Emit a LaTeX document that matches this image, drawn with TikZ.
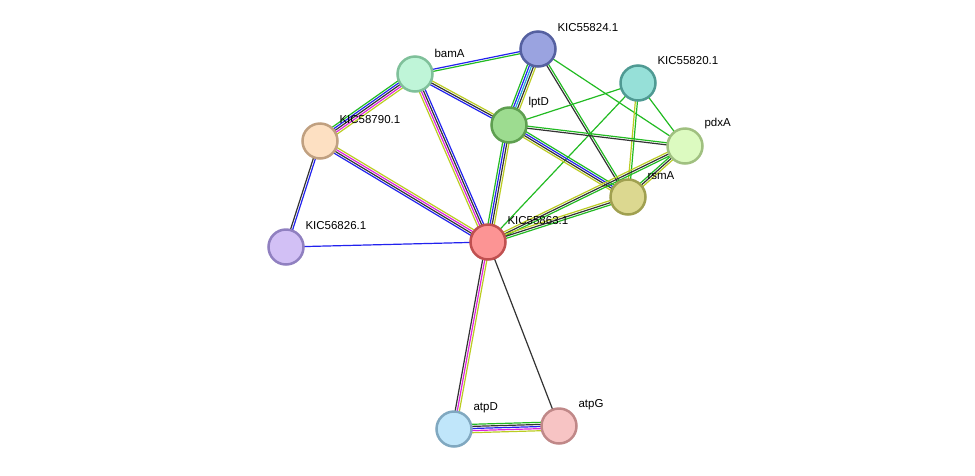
\documentclass[tikz,border=0pt]{standalone}
\usepackage{fontspec}
\setmainfont{Liberation Sans}
\usetikzlibrary{calc}
\definecolor{eg}{HTML}{22BB22}
\definecolor{eb}{HTML}{2222EE}
\definecolor{ek}{HTML}{333333}
\definecolor{ey}{HTML}{BBCC22}
\definecolor{em}{HTML}{DD22DD}
\definecolor{ec}{HTML}{22AADD}
\newcommand\medge[4]{%
  \foreach \c [count=\i] in {#4}{%
    \pgfmathsetmacro\off{(\i-(#3+1)/2)*2.1}%
    \draw[line width=1.2pt,\c] ($(#1)!\off pt!90:(#2)$) -- ($(#2)!\off pt!-90:(#1)$);
  }}
\tikzset{
  prot/.style={circle,minimum size=35pt,inner sep=0pt,line width=2.5pt},
  lab/.style={anchor=west,font=\fontsize{11.5}{12}\selectfont,text=black}
}
\begin{document}
\begin{tikzpicture}[x=1pt,y=-1pt]
\useasboundingbox (0,0) rectangle (975,475);
\coordinate (n24) at (538,49);
\coordinate (n20) at (638,83);
\coordinate (bam) at (415,74);
\coordinate (lpt) at (509,125);
\coordinate (pdx) at (685,146);
\coordinate (n90) at (320,141);
\coordinate (rsm) at (628,197);
\coordinate (n26) at (286,247);
\coordinate (n63) at (488,242);
\coordinate (atd) at (454,429);
\coordinate (atg) at (559,426);
\medge{bam}{n24}{2}{eg,eb}
\medge{bam}{lpt}{3}{eb,ek,ey}
\medge{n90}{bam}{5}{ey,em,ek,eb,eg}
\medge{bam}{n63}{4}{ey,em,ek,eb}
\medge{n90}{n63}{4}{eb,ek,em,ey}
\medge{n90}{n26}{2}{ek,eb}
\medge{n26}{n63}{1}{eb}
\medge{n24}{lpt}{5}{eg,eb,ec,ek,ey}
\medge{n24}{rsm}{2}{ek,eg}
\medge{n24}{pdx}{1}{eg}
\medge{n20}{lpt}{1}{eg}
\medge{n20}{pdx}{1}{eg}
\medge{n20}{rsm}{2}{ey,eg}
\medge{n20}{n63}{1}{eg}
\medge{lpt}{pdx}{2}{ek,eg}
\medge{lpt}{rsm}{4}{ey,ek,eb,eg}
\medge{lpt}{n63}{4}{eg,eb,ek,ey}
\medge{pdx}{rsm}{3}{eg,ek,ey}
\medge{pdx}{n63}{3}{ey,ek,eg}
\medge{rsm}{n63}{3}{ey,ek,eg}
\medge{n63}{atd}{3}{ek,em,ey}
\medge{n63}{atg}{1}{ek}
\medge{atd}{atg}{5}{ey,em,eb,ek,eg}
\node[prot,fill={rgb,255:red,154;green,163;blue,224},draw={rgb,255:red,85;green,96;blue,160}] (N24) at (n24) {};
\node[prot,fill={rgb,255:red,150;green,224;blue,216},draw={rgb,255:red,79;green,154;blue,147}] (N20) at (n20) {};
\node[prot,fill={rgb,255:red,191;green,245;blue,216},draw={rgb,255:red,127;green,192;blue,154}] (BAM) at (bam) {};
\node[prot,fill={rgb,255:red,157;green,220;blue,144},draw={rgb,255:red,94;green,159;blue,80}] (LPT) at (lpt) {};
\node[prot,fill={rgb,255:red,220;green,250;blue,192},draw={rgb,255:red,160;green,192;blue,128}] (PDX) at (pdx) {};
\node[prot,fill={rgb,255:red,253;green,224;blue,194},draw={rgb,255:red,192;green,160;blue,128}] (N90) at (n90) {};
\node[prot,fill={rgb,255:red,220;green,216;blue,144},draw={rgb,255:red,160;green,160;blue,80}] (RSM) at (rsm) {};
\node[prot,fill={rgb,255:red,210;green,192;blue,245},draw={rgb,255:red,144;green,128;blue,192}] (N26) at (n26) {};
\node[prot,fill={rgb,255:red,252;green,148;blue,148},draw={rgb,255:red,192;green,80;blue,80}] (N63) at (n63) {};
\node[prot,fill={rgb,255:red,192;green,230;blue,250},draw={rgb,255:red,128;green,168;blue,192}] (ATD) at (atd) {};
\node[prot,fill={rgb,255:red,247;green,196;blue,196},draw={rgb,255:red,192;green,136;blue,136}] (ATG) at (atg) {};
\node[lab] (L24) at (554,28) {KIC55824.1};
\node[lab] (L20) at (654,61) {KIC55820.1};
\node[lab] (LB) at (431,53) {bamA};
\node[lab] (LL) at (525,103) {lptD};
\node[lab] (LP) at (701,124) {pdxA};
\node[lab] (L90) at (336,120) {KIC58790.1};
\node[lab] (LR) at (644,176) {rsmA};
\node[lab] (L26) at (302,226) {KIC56826.1};
\node[lab] (L63) at (504,221) {KIC55863.1};
\node[lab] (LD) at (470,408) {atpD};
\node[lab] (LG) at (575,405) {atpG};
\end{tikzpicture}
\end{document}
